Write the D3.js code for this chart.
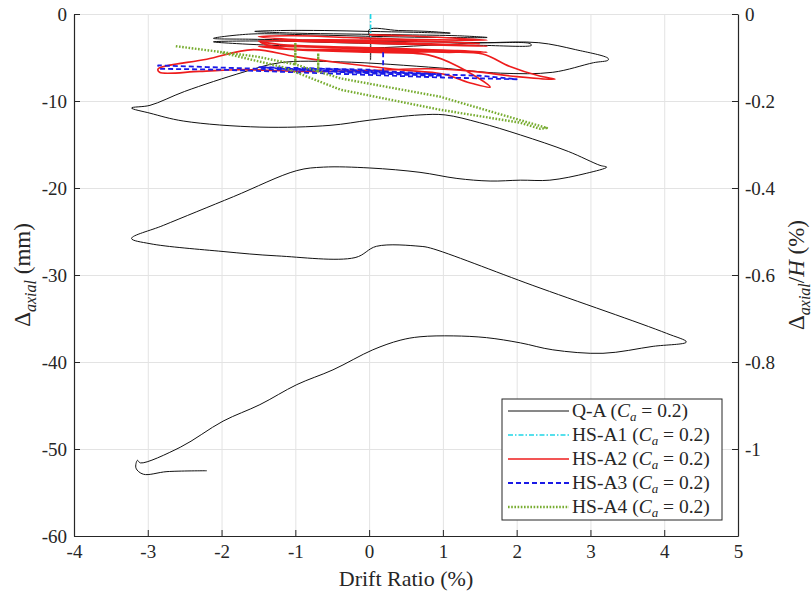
<!DOCTYPE html>
<html>
<head>
<meta charset="utf-8">
<script src="https://cdn.jsdelivr.net/npm/d3@7"></script>
<style>
  html, body { margin: 0; padding: 0; background: #fff; }
  svg text { font-family: "Liberation Serif", "DejaVu Serif", serif; fill: #262626; }
</style>
</head>
<body>
<svg id="chart" width="812" height="601"></svg>
<script>
// Axial shortening vs. drift ratio, one [drift %, axial mm] trace per specimen.
const seriesNames = ["Q-A", "HS-A1", "HS-A2", "HS-A3", "HS-A4"];

const qaTrace = [
  [0.02,-5.3],[0.02,-3.0],[0.0,-1.8],[0.4,-1.9],[0.8,-2.0],[1.1,-2.2],[0.6,-2.1],[0.0,-2.0],
  [-0.6,-1.9],[-1.2,-1.9],[-1.55,-2.0],[-1.0,-2.2],[-0.3,-2.3],[0.5,-2.4],[1.2,-2.5],[1.6,-2.7],
  [1.0,-2.7],[0.2,-2.6],[-0.8,-2.4],[-1.6,-2.3],[-2.11,-2.8],[-1.6,-2.9],[-0.8,-3.0],[0.0,-3.1],
  [0.8,-3.2],[1.6,-3.3],[2.18,-3.4],[2.2,-3.6],[1.5,-3.6],[0.6,-3.5],[-0.4,-3.3],[-1.4,-3.1],
  [-2.11,-3.2],[-1.8,-3.4],[-1.0,-3.7],[0.0,-3.9],[0.8,-3.6],[1.6,-3.3],[2.3,-3.3],
  [2.8,-4.1],[3.24,-5.1],[3.24,-5.3],[3.04,-5.6],[2.49,-6.7],[1.78,-6.8],[0.96,-6.2],[-0.39,-5.5],
  [-1.21,-5.6],[-1.71,-6.7],[-2.5,-8.9],[-2.97,-10.5],[-3.22,-10.8],[-2.97,-11.4],[-2.52,-12.3],
  [-1.48,-13.0],[-0.53,-12.8],[0.01,-12.2],[0.69,-11.6],[1.03,-11.6],[1.5,-12.5],[2.05,-13.9],
  [2.7,-15.8],[3.13,-17.4],[3.22,-17.6],[2.95,-18.3],[2.45,-19.1],[2.05,-19.1],[1.64,-19.2],
  [1.19,-18.9],[0.69,-18.2],[0.01,-17.7],[-0.62,-17.6],[-0.98,-18.0],[-1.84,-21.0],[-2.79,-24.3],
  [-3.22,-25.8],[-2.97,-26.4],[-1.98,-27.3],[-1.25,-27.8],[-0.19,-28.0],[0.10,-26.7],[0.69,-26.7],
  [0.83,-26.9],[2.22,-31.2],[4.03,-36.7],[4.3,-37.7],[3.85,-38.2],[3.17,-39.0],[2.49,-38.6],
  [2.05,-37.8],[1.59,-37.2],[1.14,-37.0],[0.69,-37.1],[0.42,-37.5],[0.05,-38.6],[-0.49,-40.9],
  [-0.98,-42.6],[-1.48,-44.9],[-1.98,-46.8],[-2.56,-49.8],[-3.1,-51.6],[-3.14,-51.3],[-3.16,-52.2],
  [-3.06,-52.9],[-2.74,-52.6],[-2.2,-52.5]
];

const hsA1Trace = [
  [0.02,0.0],[0.02,-2.8],[-0.12,-2.8],[0.17,-2.8],[0.02,-2.8]
];

const hsA2Trace = [
  [0.0,-2.4],[0.5,-2.5],[1.0,-2.7],[1.6,-3.0],[1.2,-3.0],[0.5,-2.9],[-0.3,-2.7],[-1.0,-2.5],
  [-1.5,-2.6],[-1.1,-2.9],[-0.4,-3.1],[0.4,-3.3],[1.1,-3.5],[1.6,-3.7],[1.0,-3.6],[0.2,-3.4],
  [-0.6,-3.2],[-1.5,-3.1],[-1.2,-3.5],[-0.3,-3.8],[0.5,-4.0],[1.2,-4.2],[1.6,-4.4],[1.0,-4.3],
  [0.2,-4.1],[-0.8,-3.8],[-1.5,-3.7],[-1.0,-4.1],[0.0,-4.4],[0.8,-4.7],[1.2,-6.0],[1.64,-8.4],
  [1.4,-8.0],[1.0,-6.9],[0.4,-6.4],[-0.4,-5.6],[-1.0,-4.9],[-1.57,-4.1],[-2.2,-5.2],[-2.86,-6.3],
  [-2.84,-6.7],[-2.3,-6.6],[-1.75,-6.4],[-0.9,-6.6],[0.0,-6.5],[0.8,-6.3],[1.41,-6.6],[2.0,-7.2],
  [2.52,-7.5],[2.3,-7.1],[1.9,-6.0],[1.54,-4.6],[1.0,-4.4],[0.3,-4.3],[-0.5,-4.1],[-1.2,-3.9],
  [-1.48,-3.2],[-1.0,-3.0],[0.0,-3.0],[1.0,-3.2],[1.5,-3.4]
];

const hsA3Trace = [
  [0.19,-4.4],[0.19,-6.6],[0.0,-6.4],[-0.5,-6.3],[-1.0,-6.2],[-1.5,-6.1],[-1.0,-6.4],[-0.5,-6.6],
  [0.0,-6.7],[0.5,-6.8],[0.9,-6.9],[0.5,-6.7],[0.0,-6.5],[-0.6,-6.3],[-1.2,-6.3],[-0.6,-6.6],
  [0.0,-6.8],[0.6,-7.0],[1.0,-7.1],[0.4,-6.9],[-0.5,-6.6],[-1.5,-6.3],[-2.2,-6.1],[-2.86,-5.9],
  [-2.84,-6.3],[-2.0,-6.4],[-1.0,-6.7],[0.0,-7.0],[1.0,-7.3],[2.0,-7.5],[1.5,-7.1],[0.5,-6.8],
  [-0.5,-6.5],[-1.0,-6.4]
];

const hsA4Trace = [
  [-2.62,-3.7],[-1.52,-4.9],[-1.0,-5.8],[-1.0,-3.3],[-1.0,-5.8],[-0.69,-6.6],[-0.69,-4.5],
  [-0.69,-6.6],[-0.39,-7.4],[0.96,-9.5],[2.41,-13.1],[2.32,-13.2],[2.05,-12.5],[0.96,-11.0],
  [-0.39,-8.7],[-1.17,-6.1],[-2.02,-4.4]
];

const xTicks = [-4, -3, -2, -1, 0, 1, 2, 3, 4, 5];
const yTicks = [0, -10, -20, -30, -40, -50, -60];
const yRightTicks = [0, -0.2, -0.4, -0.6, -0.8, -1];

const series = [
  { name: seriesNames[0], data: qaTrace,   color: "#111111", width: 1.0, dash: null, smooth: true },
  { name: seriesNames[1], data: hsA1Trace, color: "#1fd6e6", width: 1.6, dash: "5,2,1.5,2" },
  { name: seriesNames[2], data: hsA2Trace, color: "#ee1c1c", width: 1.6, dash: null, smooth: true },
  { name: seriesNames[3], data: hsA3Trace, color: "#1a1ae6", width: 1.8, dash: "5,3" },
  { name: seriesNames[4], data: hsA4Trace, color: "#77ac30", width: 2.4, dash: "1.6,1.6" }
];

const svg = d3.select("#chart");
const L = 74, R = 738, T = 14, B = 536;
const FONT = "'Liberation Serif', 'DejaVu Serif', serif";

const x = d3.scaleLinear().domain([-4, 5]).range([L, R]);
const y = d3.scaleLinear().domain([-60, 0]).range([B, T]);
const yR = d3.scaleLinear().domain([-1.2, 0]).range([B, T]);

// grid
svg.append("g").attr("transform", `translate(0,${B})`)
  .call(d3.axisBottom(x).tickValues(xTicks.slice(1, -1)).tickSize(-(B - T)).tickFormat(""))
  .call(g => g.select(".domain").remove())
  .call(g => g.selectAll("line").attr("stroke", "#e3e3e3").attr("stroke-width", 1));
svg.append("g").attr("transform", `translate(${L},0)`)
  .call(d3.axisLeft(y).tickValues(yTicks.slice(0, -1)).tickSize(-(R - L)).tickFormat(""))
  .call(g => g.select(".domain").remove())
  .call(g => g.selectAll("line").attr("stroke", "#e3e3e3").attr("stroke-width", 1));

// traces
const plot = svg.append("g");
series.forEach(s => {
  const line = d3.line().x(d => x(d[0])).y(d => y(d[1]))
    .curve(s.smooth ? d3.curveCatmullRom.alpha(0.5) : d3.curveLinear);
  plot.append("path")
    .datum(s.data)
    .attr("d", line)
    .attr("fill", "none")
    .attr("stroke", s.color)
    .attr("stroke-width", s.width)
    .attr("stroke-linejoin", "round")
    .attr("stroke-dasharray", s.dash);
});

// axes
const tickFont = g => {
  g.attr("font-family", FONT).attr("font-size", 19);
  g.selectAll("text").style("font-family", FONT).style("font-size", "19px").attr("fill", "#262626");
};
const axisStyle = g => {
  g.select(".domain").attr("stroke", "#262626").attr("stroke-width", 1.2);
  g.selectAll(".tick line").attr("stroke", "#262626").attr("stroke-width", 1);
};

svg.append("g").attr("transform", `translate(0,${B})`)
  .call(d3.axisBottom(x).tickValues(xTicks).tickSizeInner(-6).tickSizeOuter(0).tickPadding(9)
        .tickFormat(d => String(d)))
  .call(axisStyle).call(tickFont);

svg.append("g").attr("transform", `translate(${L},0)`)
  .call(d3.axisLeft(y).tickValues(yTicks).tickSizeInner(-6).tickSizeOuter(0).tickPadding(7)
        .tickFormat(d => String(d)))
  .call(axisStyle).call(tickFont);

svg.append("g").attr("transform", `translate(${R},0)`)
  .call(d3.axisRight(yR).tickValues(yRightTicks).tickSizeInner(-6).tickSizeOuter(0).tickPadding(7)
        .tickFormat(d => d === 0 ? "0" : String(+d.toFixed(1))))
  .call(axisStyle).call(tickFont);

// axis titles
svg.append("text").attr("x", (L + R) / 2).attr("y", 586).attr("text-anchor", "middle")
  .style("font-size", "22px").text("Drift Ratio (%)");

const leftTitle = svg.append("text")
  .attr("transform", `translate(30,${(T + B) / 2}) rotate(-90)`)
  .attr("text-anchor", "middle").style("font-size", "23px");
leftTitle.append("tspan").text("Δ");
leftTitle.append("tspan").attr("dy", 6).style("font-style", "italic").style("font-size", "16px").text("axial");
leftTitle.append("tspan").attr("dy", -6).text(" (mm)");

const rightTitle = svg.append("text")
  .attr("transform", `translate(804,${(T + B) / 2}) rotate(-90)`)
  .attr("text-anchor", "middle").style("font-size", "23px");
rightTitle.append("tspan").text("Δ");
rightTitle.append("tspan").attr("dy", 6).style("font-style", "italic").style("font-size", "16px").text("axial");
rightTitle.append("tspan").attr("dy", -6).text("/");
rightTitle.append("tspan").style("font-style", "italic").text("H");
rightTitle.append("tspan").text(" (%)");

// legend
const lg = svg.append("g").attr("transform", "translate(502,399)");
lg.append("rect").attr("width", 220).attr("height", 121)
  .attr("fill", "#fff").attr("stroke", "#262626").attr("stroke-width", 1);
series.forEach((s, i) => {
  const cy = 12 + i * 24;
  lg.append("line").attr("x1", 6).attr("x2", 67).attr("y1", cy).attr("y2", cy)
    .attr("stroke", s.color).attr("stroke-width", s.width).attr("stroke-dasharray", s.dash);
  const t = lg.append("text").attr("x", 70).attr("y", cy + 6).style("font-size", "19.5px");
  t.append("tspan").text(s.name + " (");
  t.append("tspan").style("font-style", "italic").text("C");
  t.append("tspan").attr("dy", 4).style("font-style", "italic").style("font-size", "13px").text("a");
  t.append("tspan").attr("dy", -4).text(" = 0.2)");
});
</script>
</body>
</html>
